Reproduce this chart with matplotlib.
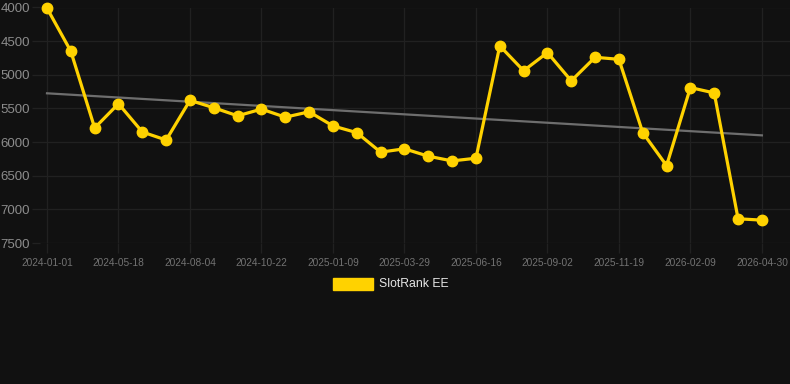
import matplotlib
matplotlib.use("Agg")
import matplotlib.pyplot as plt
import numpy as np

# rank per sample (lower is better, axis inverted)
ranks = [4010, 4650, 5790, 5430, 5850, 5970, 5380, 5490, 5610, 5510,
         5630, 5550, 5760, 5860, 6150, 6100, 6210, 6280, 6240, 4570,
         4940, 4670, 5090, 4740, 4770, 5860, 6350, 5190, 5270, 7140,
         7160]
tick_labels = ["2024-01-01", "2024-05-18", "2024-08-04", "2024-10-22",
               "2025-01-09", "2025-03-29", "2025-06-16", "2025-09-02",
               "2025-11-19", "2026-02-09", "2026-04-30"]
y_ticks = [4000, 4500, 5000, 5500, 6000, 6500, 7000, 7500]

bg = "#111111"
grid = "#212121"
yellow = "#FFD200"

plt.rcParams["font.family"] = ["Liberation Sans", "DejaVu Sans"]

fig = plt.figure(figsize=(7.9, 3.84), dpi=100, facecolor=bg)
ax = fig.add_axes([40 / 790, (384 - 243) / 384, 750 / 790, (243 - 7.5) / 384])
ax.set_facecolor(bg)

x = np.arange(len(ranks))
coef = np.polyfit(x, ranks, 1)
ax.plot(x, np.polyval(coef, x), color="#6e6e6e", lw=1.6, zorder=2)
ax.plot(x, ranks, color=yellow, lw=2.3, marker="o", ms=7.5,
        clip_on=False, zorder=3)

ax.set_ylim(7500, 4000)
ax.set_xlim(-7 / 23.83, 743 / 23.83)
ax.set_yticks(y_ticks)
ax.set_yticklabels([str(v) for v in y_ticks])
ax.set_xticks(np.arange(0, len(ranks), 3))
ax.set_xticklabels(tick_labels)

ax.grid(True, color=grid, lw=0.9)
ax.set_axisbelow(True)
for s in ax.spines.values():
    s.set_visible(False)
ax.tick_params(axis="y", colors=grid, labelcolor="#8c8c8c", labelsize=9.5,
               length=6, width=0.9, pad=1)
ax.tick_params(axis="x", colors=grid, labelcolor="#727272", labelsize=7.3,
               length=7, width=0.9, pad=4)

# legend
fig.patches.append(matplotlib.patches.Rectangle(
    (333 / 790, 1 - 290 / 384), 40 / 790, 12 / 384,
    transform=fig.transFigure, color=yellow))
fig.text(379 / 790, 1 - 284 / 384, "SlotRank EE", color="#e6e6e6",
         fontsize=8.8, va="center", ha="left")

fig.savefig("out.png", dpi=100, facecolor=bg)
